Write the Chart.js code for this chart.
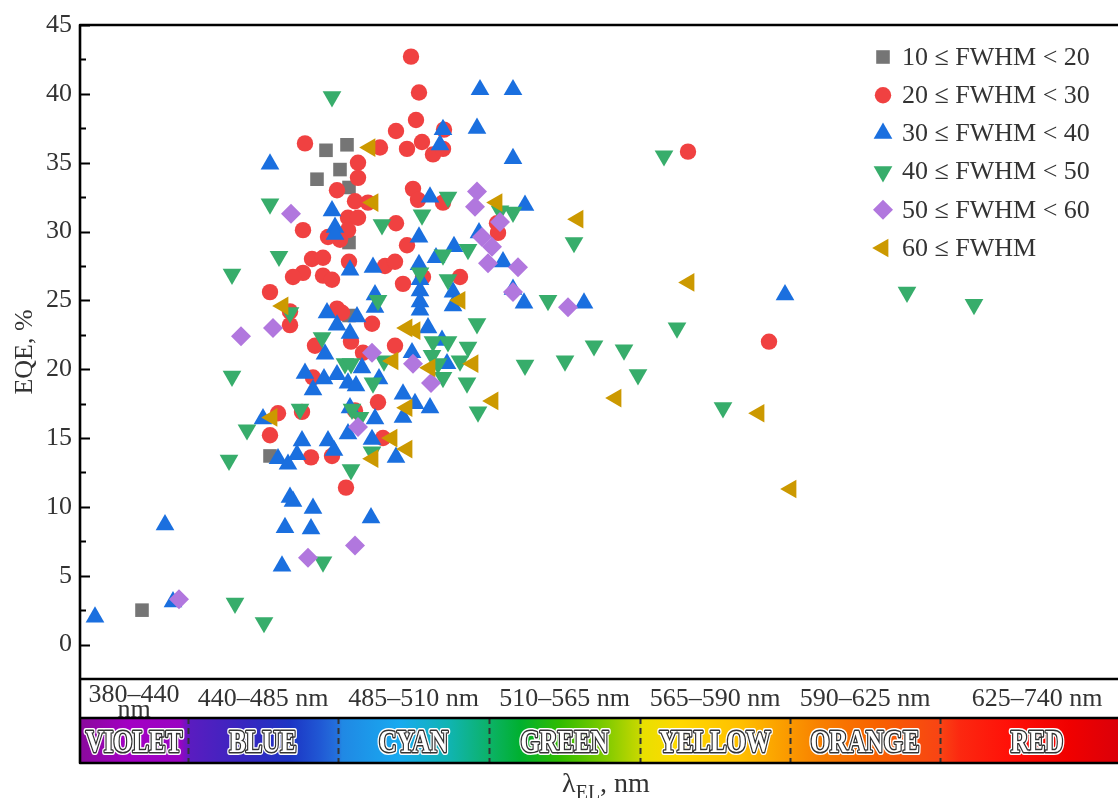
<!DOCTYPE html>
<html>
<head>
<meta charset="utf-8">
<title>EQE vs emission wavelength</title>
<script src="https://cdn.jsdelivr.net/npm/chart.js@4.4.1/dist/chart.umd.min.js"></script>
<style>
  html, body { margin: 0; padding: 0; background: #fff; }
  #wrap { width: 1118px; height: 798px; }
</style>
</head>
<body>
<div id="wrap"><canvas id="eqeChart" width="1118" height="798"></canvas></div>
<script>
// Data: x = position along the colour strip (0 = left edge), y = EQE, %
const seriesLabels = ['10 ≤ FWHM < 20', '20 ≤ FWHM < 30', '30 ≤ FWHM < 40',
    '40 ≤ FWHM < 50', '50 ≤ FWHM < 60', '60 ≤ FWHM'];

const fwhm10 = [[6.2, 2.5], [19.0, 13.7], [23.7, 33.8], [24.6, 35.9], [26.7, 36.3],
    [26.0, 34.5], [26.9, 33.2], [26.9, 29.2], [26.9, 23.9]];

const fwhm20 = [[33.1, 42.7], [33.9, 40.1], [33.6, 38.1], [31.6, 37.3], [22.5, 36.4],
    [30.0, 36.1], [34.2, 36.5], [32.7, 36.0], [35.3, 35.6], [36.3, 36.0], [36.4, 37.4],
    [27.8, 35.0], [27.8, 33.9], [25.7, 33.0], [33.3, 33.1], [33.8, 32.3], [36.3, 32.1],
    [27.5, 32.2], [28.8, 32.1], [26.8, 31.0], [27.8, 31.0], [22.3, 30.1], [31.6, 30.6],
    [41.7, 30.6], [41.8, 29.9], [26.8, 30.1], [24.8, 29.6], [26.0, 29.4], [32.7, 29.0],
    [23.2, 28.0], [24.3, 28.1], [26.9, 27.8], [30.5, 27.5], [31.5, 27.8], [22.3, 27.0],
    [24.3, 26.8], [25.2, 26.5], [21.3, 26.7], [38.0, 26.7], [32.3, 26.2], [34.3, 26.7],
    [19.0, 25.6], [21.0, 24.2], [21.0, 23.2], [25.7, 24.4], [26.2, 24.1], [29.2, 23.3],
    [23.5, 21.7], [27.1, 22.0], [28.3, 21.2], [31.5, 21.7], [23.3, 19.4], [19.8, 16.8],
    [22.2, 16.9], [19.0, 15.2], [23.1, 13.6], [25.2, 13.7], [26.6, 11.4], [29.8, 17.6],
    [30.3, 15.0], [27.5, 17.0], [60.8, 35.8], [68.9, 22.0]];

const fwhm30 = [[1.5, 2.0], [8.5, 8.7], [9.3, 3.1], [19.0, 34.9], [18.3, 16.4],
    [20.2, 5.7], [20.5, 8.5], [21.0, 10.7], [21.3, 10.4], [23.3, 9.9], [23.1, 8.4],
    [19.8, 13.5], [20.8, 13.1], [21.7, 13.8], [22.2, 14.8], [24.8, 14.8], [25.4, 14.1],
    [26.8, 15.3], [29.2, 14.9], [24.5, 21.1], [22.5, 19.7], [23.3, 18.5], [24.4, 19.3],
    [25.7, 19.6], [26.8, 19.0], [27.6, 18.8], [24.7, 24.1], [25.7, 23.2], [27.0, 22.6],
    [27.7, 23.8], [25.2, 31.5], [25.5, 30.3], [25.5, 29.8], [27.0, 27.2], [35.0, 32.5],
    [33.9, 29.6], [37.4, 28.9], [35.6, 28.1], [29.3, 27.4], [33.9, 27.6], [34.0, 26.5],
    [34.0, 25.7], [34.0, 24.9], [34.0, 24.3], [36.3, 37.4], [36.0, 36.3], [40.0, 40.3],
    [43.3, 40.3], [39.7, 37.5], [43.3, 35.3], [44.5, 31.9], [42.3, 27.8], [39.9, 29.9],
    [37.3, 25.6], [37.3, 24.6], [43.3, 25.8], [44.4, 24.8], [29.5, 25.4], [29.5, 24.5],
    [34.8, 23.0], [50.4, 24.8], [70.5, 25.4], [36.2, 22.1], [36.7, 20.4], [33.2, 21.2],
    [32.3, 18.2], [33.5, 17.5], [35.0, 17.2], [32.3, 16.5], [28.2, 20.1], [29.9, 19.3],
    [27.0, 17.2], [29.5, 16.4], [31.6, 13.6], [29.1, 9.2]];

const fwhm40 = [[25.2, 39.8], [19.0, 32.0], [30.2, 30.5], [15.2, 26.9], [19.9, 28.2],
    [21.0, 24.1], [15.2, 19.5], [16.7, 15.6], [14.9, 13.4], [24.2, 22.3], [26.5, 20.4],
    [27.1, 20.4], [22.0, 17.1], [27.2, 17.1], [28.0, 16.5], [27.1, 12.7], [24.3, 6.0],
    [15.5, 3.0], [18.4, 1.6], [36.8, 32.5], [34.2, 31.2], [43.3, 31.4], [42.0, 31.5],
    [38.8, 28.7], [36.3, 28.3], [34.0, 27.0], [36.8, 26.5], [29.8, 25.0], [39.7, 23.3],
    [46.8, 25.0], [35.3, 22.0], [36.8, 22.0], [38.8, 21.6], [35.2, 21.0], [38.0, 20.6],
    [35.8, 20.4], [36.3, 19.4], [38.7, 19.0], [39.8, 16.9], [29.3, 19.0], [30.4, 20.6],
    [29.2, 14.0], [44.5, 20.3], [48.5, 20.6], [51.4, 21.7], [54.4, 21.4], [55.8, 19.6],
    [58.4, 35.5], [49.4, 29.2], [59.7, 23.0], [64.3, 17.2], [82.7, 25.6], [89.4, 24.7]];

const fwhm50 = [[9.9, 3.3], [16.1, 22.4], [19.3, 23.0], [21.1, 31.3], [22.8, 6.3],
    [27.5, 7.2], [27.8, 15.8], [29.2, 21.2], [33.3, 20.4], [35.1, 19.0], [39.7, 32.9],
    [39.5, 31.8], [42.0, 30.7], [40.2, 29.6], [41.2, 28.9], [40.8, 27.7], [43.8, 27.4],
    [43.3, 25.6], [48.8, 24.5]];

const fwhm60 = [[29.0, 36.1], [29.3, 32.1], [41.7, 32.1], [20.3, 24.6], [19.2, 16.5],
    [38.0, 25.0], [32.7, 23.0], [33.5, 22.8], [31.3, 20.6], [35.0, 20.1], [39.3, 20.4],
    [41.3, 17.7], [32.7, 17.2], [31.2, 15.0], [32.7, 14.2], [29.3, 13.5], [49.8, 30.9],
    [60.9, 26.3], [53.6, 17.9], [67.9, 16.8], [71.1, 11.3]];

// Colour strip: band edges (same x units as the points), names and ranges.
// The red band runs past the right edge of the picture.
const bandEdges = [0, 10.8, 25.8, 40.9, 56.0, 71.0, 86.0, 105.4];
const bandNames = ['VIOLET', 'BLUE', 'CYAN', 'GREEN', 'YELLOW', 'ORANGE', 'RED'];
const bandRanges = [['380–440', 'nm'], ['440–485 nm'], ['485–510 nm'], ['510–565 nm'],
    ['565–590 nm'], ['590–625 nm'], ['625–740 nm']];

const yTicks = [0, 5, 10, 15, 20, 25, 30, 35, 40, 45];
const yMinorTicks = [2.5, 7.5, 12.5, 17.5, 22.5, 27.5, 32.5, 37.5, 42.5];

const SERIF = "'Liberation Serif', 'DejaVu Serif', serif";
const TEXT = '#333333';

const markers = [
    { style: 'rect', radius: 9.6, rotation: 0, color: '#757575' },
    { style: 'circle', radius: 8.2, rotation: 0, color: '#F04141' },
    { style: 'triangle', radius: 10.8, rotation: 0, color: '#1A6FDF' },
    { style: 'triangle', radius: 10.8, rotation: 180, color: '#37AD6B' },
    { style: 'rectRot', radius: 10, rotation: 0, color: '#B177DE' },
    { style: 'triangle', radius: 10.8, rotation: -90, color: '#CC9900' }
];

const allSeries = [fwhm10, fwhm20, fwhm30, fwhm40, fwhm50, fwhm60];

function drawMarker(ctx, m, x, y) {
    const r = m.radius;
    let rad = m.rotation * Math.PI / 180;
    ctx.beginPath();
    if (m.style === 'circle') {
        ctx.arc(x, y, r, 0, Math.PI * 2);
    } else if (m.style === 'rect') {
        const s = Math.SQRT1_2 * r;
        ctx.rect(x - s, y - s, 2 * s, 2 * s);
    } else if (m.style === 'rectRot') {
        ctx.moveTo(x - r, y);
        ctx.lineTo(x, y + r);
        ctx.lineTo(x + r, y);
        ctx.lineTo(x, y - r);
    } else {
        for (let k = 0; k < 3; k++) {
            const px = x + Math.sin(rad) * r;
            const py = y - Math.cos(rad) * r;
            if (k === 0) ctx.moveTo(px, py); else ctx.lineTo(px, py);
            rad += 2 * Math.PI / 3;
        }
    }
    ctx.closePath();
    ctx.fillStyle = m.color;
    ctx.fill();
}

const stripPlugin = {
    id: 'strip',
    afterDraw(chart) {
        const ctx = chart.ctx;
        const area = chart.chartArea;
        const xs = chart.scales.x;
        const ys = chart.scales.y;
        const rowTop = area.bottom;
        const bandTop = area.bottom + 39;
        const bandBottom = area.bottom + 84;
        const left = area.left;
        const right = chart.width + 2;
        const px = v => xs.getPixelForValue(v);
        const stripEnd = px(bandEdges[bandEdges.length - 1]);

        ctx.save();

        // spectrum gradient
        const grad = ctx.createLinearGradient(left, 0, stripEnd, 0);
        const stops = [[0, '#8a0a9c'], [5, '#a300c4'], [10.0, '#9a04c2'], [11.0, '#5a1cc0'],
            [17, '#3428c0'], [21, '#1c34c4'], [24, '#2058d4'], [25.8, '#2472dc'], [26.2, '#2088e4'],
            [32, '#18aaf0'], [37, '#10b4b0'], [40.9, '#0cb268'], [44, '#00b030'], [48, '#30bc00'],
            [53, '#88cc00'], [56, '#c8d800'], [56.2, '#e8e000'], [60, '#ffd800'], [66, '#ffc000'],
            [71, '#fa9800'], [74, '#f88000'], [80, '#f86000'], [86, '#f84414'], [88, '#fc2810'],
            [93, '#ff1008'], [99, '#f00000'], [105.4, '#d4000c']];
        stops.forEach(([v, c]) => grad.addColorStop((px(v) - left) / (stripEnd - left), c));
        ctx.fillStyle = grad;
        ctx.fillRect(left, bandTop, right - left, bandBottom - bandTop);

        // dashed separators inside the strip
        ctx.strokeStyle = '#333';
        ctx.lineWidth = 2;
        ctx.setLineDash([6, 4]);
        for (let i = 1; i < bandEdges.length - 1; i++) {
            const x = Math.round(px(bandEdges[i])) + 0.5;
            ctx.beginPath();
            ctx.moveTo(x, bandTop);
            ctx.lineTo(x, bandBottom);
            ctx.stroke();
        }
        ctx.setLineDash([]);

        // band names (tall, slightly condensed serif caps)
        ctx.font = 'bold 31px ' + SERIF;
        ctx.textAlign = 'center';
        ctx.textBaseline = 'alphabetic';
        ctx.lineJoin = 'round';
        bandNames.forEach((name, i) => {
            const cx = px((bandEdges[i] + bandEdges[i + 1]) / 2);
            const by = bandTop + 34;
            ctx.save();
            ctx.translate(cx, by);
            ctx.scale(0.8, 1);
            ctx.strokeStyle = '#ffffff';
            ctx.lineWidth = 6;
            ctx.strokeText(name, 0, 0);
            ctx.strokeStyle = '#333333';
            ctx.lineWidth = 3;
            ctx.strokeText(name, 0, 0);
            ctx.fillStyle = '#ffffff';
            ctx.fillText(name, 0, 0);
            ctx.restore();
        });

        // wavelength ranges
        ctx.font = '26px ' + SERIF;
        ctx.fillStyle = TEXT;
        bandRanges.forEach((lines, i) => {
            const cx = px((bandEdges[i] + bandEdges[i + 1]) / 2);
            if (lines.length === 1) {
                ctx.fillText(lines[0], cx, rowTop + 27);
            } else {
                ctx.fillText(lines[0], cx, rowTop + 23);
                ctx.fillText(lines[1], cx, rowTop + 38);
            }
        });

        // frame (open at the right, where the figure is cut off)
        ctx.strokeStyle = '#000';
        ctx.lineWidth = 2.6;
        ctx.beginPath();
        ctx.moveTo(right, area.top); ctx.lineTo(left, area.top);
        ctx.lineTo(left, bandBottom); ctx.lineTo(right, bandBottom);
        ctx.moveTo(left, rowTop); ctx.lineTo(right, rowTop);
        ctx.moveTo(left, bandTop); ctx.lineTo(right, bandTop);
        ctx.stroke();

        // inward y ticks
        ctx.lineWidth = 2;
        ctx.beginPath();
        yTicks.forEach(v => {
            const y = Math.round(ys.getPixelForValue(v)) + 0.5;
            ctx.moveTo(left, y); ctx.lineTo(left + 10, y);
        });
        yMinorTicks.forEach(v => {
            const y = Math.round(ys.getPixelForValue(v)) + 0.5;
            ctx.moveTo(left, y); ctx.lineTo(left + 6, y);
        });
        ctx.stroke();

        // x title with subscript
        const parts = [['λ', '28px ', 0], ['EL', '20px ', 7], [', nm', '28px ', 0]];
        let total = 0;
        parts.forEach(p => { ctx.font = p[1] + SERIF; total += ctx.measureText(p[0]).width; });
        let tx = (area.left + area.right) / 2 + 8 - total / 2;
        ctx.textAlign = 'left';
        ctx.fillStyle = TEXT;
        parts.forEach(p => {
            ctx.font = p[1] + SERIF;
            ctx.fillText(p[0], tx, bandBottom + 29 + p[2]);
            tx += ctx.measureText(p[0]).width;
        });

        // legend
        ctx.font = '26px ' + SERIF;
        ctx.textBaseline = 'middle';
        seriesLabels.forEach((label, i) => {
            const ly = area.top + 32 + i * 38.2;
            drawMarker(ctx, markers[i], left + 803, ly);
            ctx.fillStyle = TEXT;
            ctx.fillText(label, left + 822, ly + 1);
        });

        ctx.restore();
    }
};

new Chart(document.getElementById('eqeChart'), {
    type: 'scatter',
    data: {
        datasets: allSeries.map((pts, i) => ({
            label: seriesLabels[i],
            data: pts.map(([x, y]) => ({ x: x, y: y })),
            pointStyle: markers[i].style,
            pointRadius: markers[i].radius,
            pointHoverRadius: markers[i].radius,
            pointRotation: markers[i].rotation,
            backgroundColor: markers[i].color,
            borderWidth: 0,
            pointBorderWidth: 0,
            order: allSeries.length - i
        }))
    },
    options: {
        responsive: false,
        animation: false,
        devicePixelRatio: 1,
        events: [],
        layout: { autoPadding: false, padding: { top: 25, right: 2, bottom: 119, left: 0 } },
        plugins: {
            legend: { display: false },
            tooltip: { enabled: false }
        },
        scales: {
            x: {
                type: 'linear',
                display: false,
                min: 0,
                max: 103.6
            },
            y: {
                type: 'linear',
                min: -2.5,
                max: 45,
                afterBuildTicks: scale => { scale.ticks = yTicks.map(v => ({ value: v })); },
                afterFit: scale => { scale.width = 80; },
                grid: { display: false, drawTicks: false },
                border: { display: false },
                ticks: {
                    padding: 8,
                    color: TEXT,
                    font: { family: SERIF, size: 26 }
                },
                title: {
                    display: true,
                    text: 'EQE, %',
                    color: TEXT,
                    font: { family: SERIF, size: 26 },
                    padding: { top: 10, bottom: 0 }
                }
            }
        }
    },
    plugins: [stripPlugin]
});
</script>
</body>
</html>
